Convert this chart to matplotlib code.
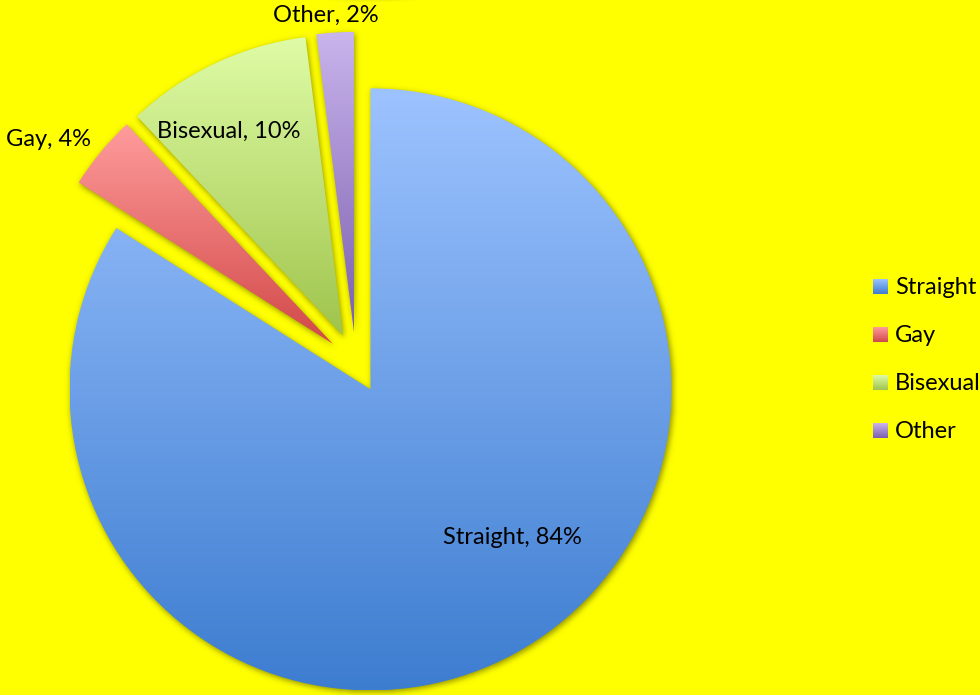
import numpy as np
import matplotlib
matplotlib.use("Agg")
import matplotlib.pyplot as plt
from matplotlib.colors import to_rgb

# ---- data -------------------------------------------------------------
categories = ["Straight", "Gay", "Bisexual", "Other"]
shares = [84, 4, 10, 2]
explode = [0.1, 0.1, 0.1, 0.1]   # fraction of the radius

# gradient colours (top, bottom) per slice
top_colors = ["#9dc3ff", "#ff9c9c", "#dffca6", "#c9b4ec"]
bottom_colors = ["#3d7dd0", "#d24848", "#9fc44c", "#7b5fae"]

# label anchor points (pixels, origin bottom-left)
label_pos = [(512, 158), (48, 556), (229, 564), (326, 680)]

BG = "#ffff00"
W, H = 980, 695
CENTER = (356.0, 332.0)
RADIUS = 301

fig = plt.figure(figsize=(W / 100, H / 100), dpi=100, facecolor=BG)
ax = fig.add_axes([0, 0, 1, 1])
ax.set_facecolor(BG)

wedges, _ = ax.pie(shares, explode=[e * RADIUS for e in explode],
                   startangle=90, counterclock=False,
                   center=CENTER, radius=RADIUS, frame=True,
                   wedgeprops=dict(linewidth=0))
ax.set_xlim(0, W)
ax.set_ylim(0, H)
ax.set_aspect("equal")
ax.axis("off")
fig.canvas.draw()


def gradient_rgba(c_top, c_bot, n=256):
    t = np.linspace(0, 1, n)[:, None]
    a = np.array(to_rgb(c_top))
    b = np.array(to_rgb(c_bot))
    g = a * (1 - t) + b * t
    return g[:, None, :]


# soft drop shadow under all slices
yy, xx = np.mgrid[0:H, 0:W]
pts = np.column_stack([xx.ravel() + 0.5, yy.ravel() + 0.5])
mask = np.zeros(H * W, dtype=float)
for w in wedges:
    path = w.get_path().transformed(w.get_transform())
    mask = np.maximum(mask, path.contains_points(pts).astype(float))
mask = mask.reshape(H, W)

sigma = 3.0
k = np.arange(-10, 11)
kern = np.exp(-0.5 * (k / sigma) ** 2)
kern /= kern.sum()
blur = np.apply_along_axis(lambda m: np.convolve(m, kern, mode="same"), 0, mask)
blur = np.apply_along_axis(lambda m: np.convolve(m, kern, mode="same"), 1, blur)
blur = np.roll(blur, -2, axis=0)  # shift downward (rows are bottom-up)
blur = np.roll(blur, 1, axis=1)
shadow = np.zeros((H, W, 4))
shadow[..., 0] = 0.4
shadow[..., 1] = 0.4
shadow[..., 3] = 0.7 * blur
ax.imshow(shadow, extent=(0, W, 0, H), origin="lower", zorder=0.5,
          interpolation="nearest")

# gradient fill clipped to each slice
for w, ct, cb in zip(wedges, top_colors, bottom_colors):
    w.set_facecolor("none")
    bb = w.get_path().transformed(w.get_transform()).get_extents()
    x0, y0 = ax.transData.inverted().transform((bb.x0, bb.y0))
    x1, y1 = ax.transData.inverted().transform((bb.x1, bb.y1))
    im = ax.imshow(gradient_rgba(ct, cb), extent=(x0, x1, y0, y1),
                   aspect="auto", zorder=1, interpolation="bilinear")
    im.set_clip_path(w)

ax.set_xlim(0, W)
ax.set_ylim(0, H)

font = dict(family=["Lato", "DejaVu Sans"], fontsize=17, color="black")
for (x, y), name, v in zip(label_pos, categories, shares):
    ax.text(x, y, f"{name}, {v}%", ha="center", va="center", zorder=3, **font)

# legend with gradient swatches
leg_y = [408, 360, 312, 264]
for name, ct, cb, y in zip(categories, top_colors, bottom_colors, leg_y):
    ax.imshow(gradient_rgba(ct, cb), extent=(873, 888, y - 7.5, y + 7.5),
              aspect="auto", zorder=3, interpolation="bilinear")
    ax.text(895, y, name, ha="left", va="center", zorder=3, **font)

ax.set_xlim(0, W)
ax.set_ylim(0, H)
fig.savefig("out.png", dpi=100, facecolor=BG)
